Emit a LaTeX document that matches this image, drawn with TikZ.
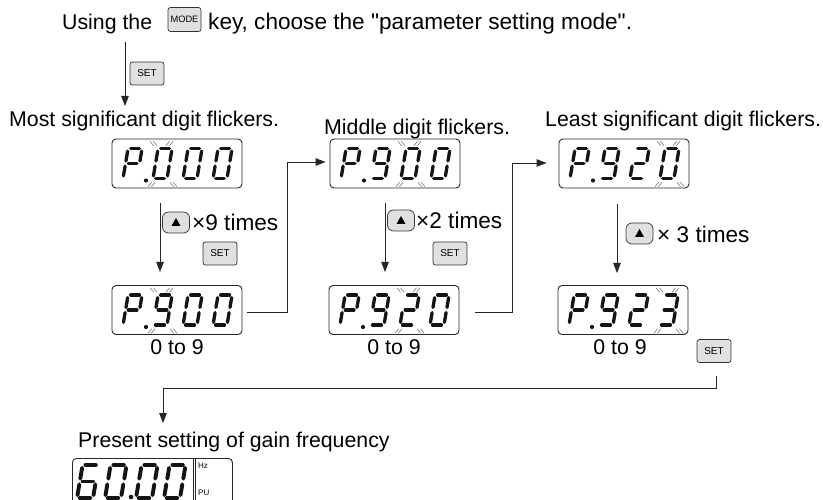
\documentclass[tikz,border=0pt]{standalone}
\usepackage{fontspec}
\setmainfont{Liberation Sans}[Ligatures=TeXOff]
\usetikzlibrary{arrows.meta,calc}
\def\dW{14}\def\dH{30}\def\dG{2.6}
\def\dsega{(\dG,\dH)--(\dW-\dG,\dH)}
\def\dsegb{(\dW,\dH-\dG)--(\dW,\dH/2+\dG)}
\def\dsegc{(\dW,\dH/2-\dG)--(\dW,\dG)}
\def\dsegd{(\dG,0)--(\dW-\dG,0)}
\def\dsege{(0,\dG)--(0,\dH/2-\dG)}
\def\dsegf{(0,\dH/2+\dG)--(0,\dH-\dG)}
\def\dsegg{(\dG,\dH/2)--(\dW-\dG,\dH/2)}
\newcommand\segdig[3]{%
 \begin{scope}[shift={(#1,#2)},y={(0pt,1pt)},xslant=0.17]
  \foreach \s in {#3}{\expandafter\let\expandafter\cursegpath\csname dseg\s\endcsname
    \draw[segline] \cursegpath;}
 \end{scope}}
\newcommand\flick[2]{%
 \pgfmathsetmacro\fcx{#1+9.5}\pgfmathsetmacro\fcy{#2-15}%
 \foreach \mx/\my/\sl in {-9/-20/1, 7/-20/-1, -11/21/-1, 11/21/1}{%
   \foreach \dd in {-1.7,1.7}{%
     \draw[flickline] (\fcx+\mx+\dd-1.8, \fcy+\my-2.2*\sl) -- (\fcx+\mx+\dd+1.8, \fcy+\my+2.2*\sl);
 }}}
\newcommand\dispdigits[7]{%
  \segdig{#1+11}{#2-9.5}{#3}
  \segdig{#1+41}{#2-9.5}{#4}
  \segdig{#1+71}{#2-9.5}{#5}
  \segdig{#1+101}{#2-9.5}{#6}
  \fill[black!92] (#1+34,#2-7.5) circle (2.1);
  \flick{#1+11+30*#7}{#2-9.5}
}
\begin{document}
\begin{tikzpicture}[x=1pt,y=-1pt,
 segline/.style={line width=3.3pt,line cap=round,draw=black!92},
 flickline/.style={line width=0.55pt,draw=black!55},
 disp/.style={draw=black!85,line width=0.9pt,rounded corners=4pt,minimum width=130pt,minimum height=49pt,inner sep=0pt},
 keybox/.style={draw=black!80,line width=0.7pt,fill=black!12,rounded corners=2.5pt,minimum width=34pt,minimum height=23pt,inner sep=0pt,font=\fontsize{10}{12}\selectfont},
 upkey/.style={draw=black!80,line width=0.7pt,fill=black!12,rounded corners=6pt,minimum width=27pt,minimum height=21pt,inner sep=0pt},
 conn/.style={draw=black!85,line width=0.9pt},
 arr/.style={conn,-{Triangle[length=10pt,width=7.5pt]}},
 lbl/.style={font=\fontsize{21.3}{25}\selectfont,inner sep=0pt},
 big/.style={font=\fontsize{22.6}{26}\selectfont,inner sep=0pt},
 small/.style={font=\fontsize{8}{9}\selectfont,inner sep=0pt},
]
\path[use as bounding box] (0,0) rectangle (823,500);
\clip (0,0) rectangle (823,500);

% top line
\node[lbl,anchor=base west] (t1) at (62,29.5) {Using the};
\node[keybox,minimum width=33pt,minimum height=24pt,font=\fontsize{9.3}{11}\selectfont] (mode) at (184.5,19.5) {MODE};
\node[big,anchor=base west] (t2) at (208,29.5) {key, choose the "parameter setting mode".};

% first arrow
\coordinate (a0s) at (125,42);
\coordinate (a0e) at (125,106);
\draw[arr] (a0s) -- (a0e);
\node[keybox] (s1) at (147,73.5) {SET};

% headings
\node[lbl,anchor=base west] (h1) at (9,127) {Most significant digit flickers.};
\node[lbl,anchor=base west] (h2) at (324,135) {Middle digit flickers.};
\node[lbl,anchor=base west] (h3) at (545,127) {Least significant digit flickers.};

% displays
\node[disp] (d1) at (177,163.5) {};
\node[disp] (d2) at (395,163.5) {};
\node[disp] (d3) at (624,163.5) {};
\node[disp] (d4) at (177,310) {};
\node[disp] (d5) at (394,310) {};
\node[disp] (d6) at (623,310) {};

\dispdigits{112}{188}{a,b,e,f,g}{a,b,c,d,e,f}{a,b,c,d,e,f}{a,b,c,d,e,f}{1}
\dispdigits{330}{188}{a,b,e,f,g}{a,b,c,d,f,g}{a,b,c,d,e,f}{a,b,c,d,e,f}{2}
\dispdigits{559}{188}{a,b,e,f,g}{a,b,c,d,f,g}{a,b,d,e,g}{a,b,c,d,e,f}{3}
\dispdigits{112}{334.5}{a,b,e,f,g}{a,b,c,d,f,g}{a,b,c,d,e,f}{a,b,c,d,e,f}{1}
\dispdigits{329}{334.5}{a,b,e,f,g}{a,b,c,d,f,g}{a,b,d,e,g}{a,b,c,d,e,f}{2}
\dispdigits{558}{334.5}{a,b,e,f,g}{a,b,c,d,f,g}{a,b,d,e,g}{a,b,c,d,g}{3}

% 0 to 9
\node[lbl] (r1) at (177,347) {0 to 9};
\node[lbl] (r2) at (394,347) {0 to 9};
\node[lbl] (r3) at (620,347) {0 to 9};

% step arrows
\coordinate (a1s) at (160,203);
\coordinate (a1e) at (160,272);
\draw[arr] (a1s) -- (a1e);
\node[upkey] (u1) at (176,222.5) {};
\fill[black] ($(u1.center)+(-4.5,3.5)$) -- ++(9,0) -- ++(-4.5,-8) -- cycle;
\node[big,anchor=west] (x1) at (192,222) {×9 times};
\node[keybox] (s2) at (220,253.5) {SET};

\coordinate (a2s) at (385,203);
\coordinate (a2e) at (385,272);
\draw[arr] (a2s) -- (a2e);
\node[upkey] (u2) at (401,220.5) {};
\fill[black] ($(u2.center)+(-4.5,3.5)$) -- ++(9,0) -- ++(-4.5,-8) -- cycle;
\node[big,anchor=west] (x2) at (416,220) {×2 times};
\node[keybox] (s3) at (450,253.5) {SET};

\coordinate (a3s) at (617,204);
\coordinate (a3e) at (617,273);
\draw[arr] (a3s) -- (a3e);
\node[upkey] (u3) at (639.5,233.5) {};
\fill[black] ($(u3.center)+(-4.5,3.5)$) -- ++(9,0) -- ++(-4.5,-8) -- cycle;
\node[big,anchor=west] (x3) at (657,234) {× 3 times};
\node[keybox] (s4) at (714,351) {SET};

% connectors between columns
\coordinate (c1s) at (247,312);
\draw[arr] (c1s) -- (287,312) -- (287,162) -- ($(d2.west)+(-4,-1.5)$);
\coordinate (c2s) at (475,312);
\draw[arr] (c2s) -- (512,312) -- (512,163) -- ($(d3.west)+(-12,-0.5)$);
\coordinate (c3s) at (716,376);
\coordinate (c3e) at (163,423);
\draw[arr] (c3s) -- (716,388) -- (163,388) -- (c3e);

% final
\node[lbl,anchor=base west] (h4) at (78,447) {Present setting of gain frequency};
\node[draw=black!85,line width=0.9pt,rounded corners=4pt,minimum width=160pt,minimum height=70pt,inner sep=0pt,anchor=north west] (d7) at (72,458) {};
\draw[conn] (d7.north west -| 193,0) -- (193,520);
\draw[conn] (d7.north west -| 195.5,0) -- (195.5,520);
\node[small,anchor=west] (hz) at (198,466) {Hz};
\node[small,anchor=west] (pu) at (198,493) {PU};
\begin{scope}
 \def\dW{16}\def\dH{33}\def\dG{2.8}
 \tikzset{segline/.style={line width=3.9pt,line cap=round,draw=black!92}}
 \segdig{77}{498}{a,c,d,e,f,g}
 \segdig{105}{498}{a,b,c,d,e,f}
 \segdig{136}{498}{a,b,c,d,e,f}
 \segdig{164}{498}{a,b,c,d,e,f}
 \fill[black!92] (131,497) circle (2.3);
\end{scope}
\end{tikzpicture}
\end{document}
